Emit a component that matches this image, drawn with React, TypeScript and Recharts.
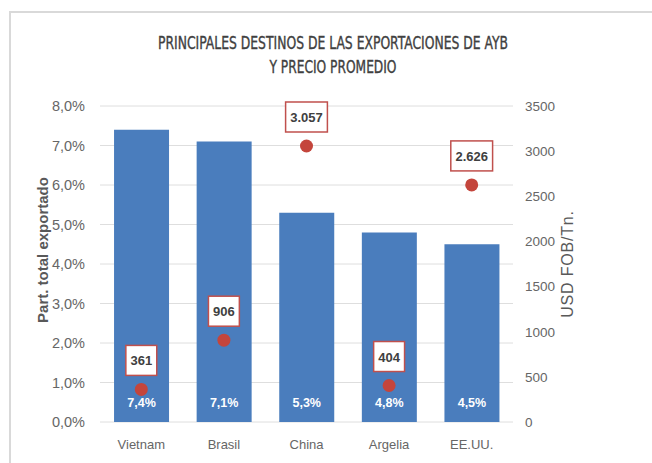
import React from "react";
import {
    ComposedChart,
    Bar,
    Line,
    XAxis,
    YAxis,
    CartesianGrid,
    LabelList,
} from "recharts";

const categories: string[] = ["Vietnam", "Brasil", "China", "Argelia", "EE.UU."];
const sharePct: number[] = [7.4, 7.1, 5.3, 4.8, 4.5];
const priceUsd: number[] = [361, 906, 3057, 404, 2626];
const leftTicks: number[] = [0, 1, 2, 3, 4, 5, 6, 7, 8];
const rightTicks: number[] = [0, 500, 1000, 1500, 2000, 2500, 3000, 3500];

const titleLines: string[] = [
    "PRINCIPALES DESTINOS DE LAS EXPORTACIONES DE AYB",
    "Y PRECIO PROMEDIO",
];

const data = categories.map((name, i) => ({
    name,
    share: sharePct[i],
    price: priceUsd[i],
}));

const GRAY = "#595959";
const TICK = "#666666";
const BAR = "#4a7dbd";
const RED = "#c4453c";
const FONT = "'Liberation Sans', Arial, sans-serif";
const NARROW = "'Liberation Sans Narrow', 'DejaVu Sans Condensed', sans-serif";

const fmtPct = (v: number): string => `${v.toFixed(1).replace(".", ",")}%`;
const fmtPrice = (v: number): string =>
    String(v).replace(/\B(?=(\d{3})+(?!\d))/g, ".");

interface PriceLabelProps {
    x?: number;
    y?: number;
    value?: number;
}

const PriceLabel = (props: PriceLabelProps): React.ReactElement | null => {
    const { x, y, value } = props;
    if (x == null || y == null || value == null) return null;
    const txt = fmtPrice(value);
    const dots = (txt.match(/\./g) || []).length;
    const w = (txt.length - dots) * 7.3 + dots * 3.6 + 9;
    const h = 30;
    const bottom = y - 14;
    return (
        <g>
            <rect
                x={x - w / 2}
                y={bottom - h}
                width={w}
                height={h}
                fill="#fff"
                stroke="#c0504d"
                strokeWidth={1.5}
            />
            <text
                x={x}
                y={bottom - h / 2 + 5}
                textAnchor="middle"
                fill="#404040"
                fontFamily={FONT}
                fontWeight="bold"
                fontSize={13}
            >
                {txt}
            </text>
        </g>
    );
};

const LeftLabel = (props: any): React.ReactElement => {
    const vb = props.viewBox || {};
    const cx = vb.x + 22;
    const cy = vb.y + vb.height / 2 - 14;
    return (
        <text
            x={cx}
            y={cy}
            transform={`rotate(-90, ${cx}, ${cy})`}
            textAnchor="middle"
            dominantBaseline="central"
            fill={GRAY}
            fontFamily={FONT}
            fontWeight="bold"
            fontSize={15}
        >
            Part. total exportado
        </text>
    );
};

const RightLabel = (props: any): React.ReactElement => {
    const vb = props.viewBox || {};
    const cx = vb.x + 54;
    const cy = vb.y + vb.height / 2;
    return (
        <text
            x={cx}
            y={cy}
            transform={`rotate(-90, ${cx}, ${cy})`}
            textAnchor="middle"
            dominantBaseline="central"
            fill={GRAY}
            fontFamily={FONT}
            fontSize={16}
            letterSpacing={0.8}
        >
            USD FOB/Tn.
        </text>
    );
};

export default function App(): React.ReactElement {
    return (
        <div
            style={{
                position: "absolute",
                left: 0,
                top: 0,
                width: 652,
                height: 463,
                background: "#fff",
                overflow: "hidden",
            }}
        >
            <div
                style={{
                    position: "absolute",
                    left: 9,
                    top: 11,
                    right: -4,
                    bottom: -4,
                    borderTop: "2px solid #d9d9d9",
                    borderLeft: "2px solid #d9d9d9",
                }}
            />
            <svg
                width={652}
                height={90}
                style={{ position: "absolute", left: 0, top: 0 }}
            >
                <text
                    x={333}
                    y={49}
                    textAnchor="middle"
                    fill="#404040"
                    stroke="#404040"
                    strokeWidth={0.35}
                    fontFamily={NARROW}
                    fontSize={17}
                    textLength={350}
                    lengthAdjust="spacingAndGlyphs"
                >
                    {titleLines[0]}
                </text>
                <text
                    x={333}
                    y={73}
                    textAnchor="middle"
                    fill="#404040"
                    stroke="#404040"
                    strokeWidth={0.35}
                    fontFamily={NARROW}
                    fontSize={17}
                    textLength={127}
                    lengthAdjust="spacingAndGlyphs"
                >
                    {titleLines[1]}
                </text>
            </svg>
            <ComposedChart
                width={652}
                height={463}
                data={data}
                margin={{ top: 106, right: 0, bottom: 0, left: 20 }}
                barCategoryGap="17%"
                style={{ position: "absolute", left: 0, top: 0 }}
            >
                <CartesianGrid
                    yAxisId="left"
                    vertical={false}
                    stroke="#dedede"
                />
                <XAxis
                    dataKey="name"
                    height={41}
                    axisLine={false}
                    tickLine={false}
                    tickSize={0}
                    tickMargin={18}
                    tick={{ fill: TICK, fontSize: 13, fontFamily: FONT }}
                />
                <YAxis
                    yAxisId="left"
                    orientation="left"
                    width={80}
                    domain={[0, 8]}
                    ticks={leftTicks}
                    axisLine={false}
                    tickLine={false}
                    tickSize={0}
                    tickMargin={15}
                    tickFormatter={fmtPct}
                    tick={{ fill: TICK, fontSize: 14.5, fontFamily: FONT }}
                    label={LeftLabel}
                />
                <YAxis
                    yAxisId="right"
                    orientation="right"
                    width={139}
                    domain={[0, 3500]}
                    ticks={rightTicks}
                    axisLine={false}
                    tickLine={false}
                    tickSize={0}
                    tickMargin={12}
                    tick={{ fill: TICK, fontSize: 13.5, fontFamily: FONT }}
                    label={RightLabel}
                />
                <Bar
                    yAxisId="left"
                    dataKey="share"
                    fill={BAR}
                    isAnimationActive={false}
                >
                    <LabelList
                        dataKey="share"
                        position="insideBottom"
                        offset={15}
                        formatter={(v: any) => fmtPct(Number(v))}
                        fill="#fff"
                        fontWeight="bold"
                        fontSize={12.5}
                        fontFamily={FONT}
                    />
                </Bar>
                <Line
                    yAxisId="right"
                    dataKey="price"
                    stroke="none"
                    dot={{ r: 6.5, fill: RED, stroke: "none" }}
                    activeDot={false}
                    isAnimationActive={false}
                >
                    <LabelList dataKey="price" content={PriceLabel as any} />
                </Line>
            </ComposedChart>
        </div>
    );
}
